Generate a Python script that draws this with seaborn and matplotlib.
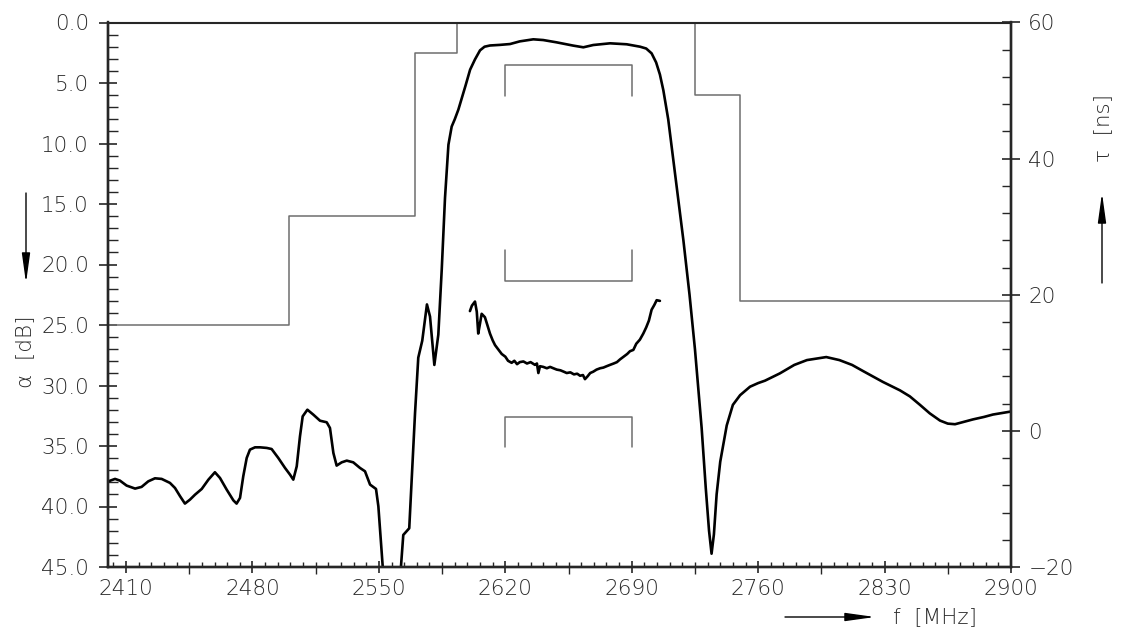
import matplotlib
matplotlib.use("Agg")
import matplotlib.pyplot as plt
import seaborn as sns
from matplotlib.ticker import FixedLocator, FormatStrFormatter, NullFormatter, NullLocator

# attenuation curve (left axis, dB)
att_freq = [2400.2, 2403.9, 2406.6, 2410.3, 2415.0, 2418.6, 2422.3, 2426.0, 2429.7, 2434.3,
            2437.1, 2439.9, 2442.6, 2445.4, 2448.2, 2451.9, 2455.6, 2459.2, 2462.0, 2465.7,
            2469.4, 2471.2, 2473.1, 2474.9, 2476.8, 2478.6, 2481.4, 2484.2, 2487.9, 2490.6,
            2494.3, 2498.0, 2500.8, 2502.6, 2504.5, 2506.3, 2507.8, 2510.4, 2513.7, 2517.4,
            2521.1, 2522.9, 2524.8, 2526.6, 2529.4, 2532.2, 2535.8, 2539.5, 2542.3, 2545.1,
            2548.4, 2549.7, 2552.1, 2555.0, 2560.0, 2562.2, 2563.5, 2565.0, 2566.8,
            2568.0, 2570.0, 2571.8, 2574.0, 2576.6, 2578.3, 2580.7, 2582.9, 2584.8, 2586.6,
            2588.5, 2590.3, 2592.0, 2594.0, 2598.0, 2600.5, 2603.2, 2606.0, 2608.5, 2611.5,
            2617.0, 2622.6, 2628.0, 2635.5, 2641.0, 2648.4, 2657.6, 2663.2, 2668.7, 2678.0,
            2687.2, 2694.6, 2698.0, 2701.0, 2703.5, 2705.6, 2707.5, 2710.2, 2714.0, 2718.6,
            2722.0, 2725.0, 2728.7, 2731.0, 2732.8, 2734.2, 2735.5, 2737.0, 2739.0, 2742.6,
            2746.0, 2750.0, 2755.5, 2760.0, 2763.8, 2772.0, 2780.0, 2787.0, 2797.7, 2805.0,
            2812.0, 2818.0, 2829.0, 2838.5, 2844.0, 2849.6, 2855.0, 2860.7, 2865.0, 2869.0,
            2874.0, 2879.0, 2885.0, 2890.0, 2900.0]
att_db = [37.92, 37.72, 37.86, 38.27, 38.52, 38.38, 37.92, 37.67, 37.72, 38.05,
          38.47, 39.15, 39.76, 39.43, 39.02, 38.55, 37.78, 37.17, 37.64, 38.60,
          39.49, 39.76, 39.29, 37.50, 35.99, 35.30, 35.11, 35.11, 35.16, 35.25,
          35.99, 36.81, 37.37, 37.78, 36.68, 34.20, 32.55, 32.00, 32.41, 32.91,
          33.04, 33.51, 35.58, 36.62, 36.35, 36.21, 36.35, 36.81, 37.09, 38.19,
          38.55, 39.98, 44.94, 50.0, 50.0, 45.0, 42.35, 42.1, 41.8,
          38.2, 32.3, 27.7, 26.3, 23.3, 24.3, 28.3, 25.8, 20.4, 14.5,
          10.1, 8.6, 8.0, 7.2, 5.2, 3.9, 3.05, 2.3, 2.0, 1.9,
          1.85, 1.78, 1.56, 1.39, 1.45, 1.64, 1.91, 2.05, 1.86, 1.72,
          1.80, 2.0, 2.15, 2.55, 3.3, 4.3, 5.6, 8.0, 12.5, 18.0,
          22.5, 27.0, 33.5, 38.5, 42.0, 43.9, 42.3, 39.0, 36.3, 33.3,
          31.6, 30.8, 30.1, 29.8, 29.6, 29.0, 28.3, 27.9, 27.65, 27.9,
          28.3, 28.8, 29.7, 30.4, 30.9, 31.6, 32.3, 32.9, 33.15, 33.2,
          33.0, 32.8, 32.6, 32.4, 32.15]

# group delay curve (right axis, ns)
gd_freq = [2600.4, 2601.5, 2603.2, 2604.2, 2605.0, 2606.0, 2606.9, 2608.7, 2610.0, 2611.5,
           2613.0, 2614.3, 2616.0, 2618.0, 2620.0, 2621.5, 2623.5, 2625.0, 2626.5, 2628.0,
           2630.0, 2632.0, 2634.0, 2636.4, 2637.5, 2638.3, 2639.2, 2641.0, 2643.0, 2644.8,
           2646.6, 2648.5, 2650.5, 2652.3, 2654.0, 2656.0, 2658.0, 2659.8, 2661.4, 2663.0,
           2664.1, 2665.5, 2667.0, 2668.7, 2670.5, 2672.5, 2674.3, 2676.1, 2678.0, 2680.0,
           2681.8, 2683.5, 2685.5, 2687.5, 2689.0, 2690.9, 2692.5, 2694.5, 2696.4, 2698.0,
           2699.5, 2701.0, 2702.5, 2703.8, 2705.6]
gd_ns = [17.6, 18.4, 19.0, 17.5, 14.3, 15.8, 17.2, 16.7, 15.6, 14.3,
         13.3, 12.6, 12.0, 11.3, 10.9, 10.3, 10.0, 10.3, 9.8, 10.1,
         10.2, 9.9, 10.1, 9.7, 9.9, 8.5, 9.5, 9.4, 9.2, 9.4,
         9.2, 9.0, 8.9, 8.7, 8.5, 8.6, 8.3, 8.4, 8.1, 8.2,
         7.6, 8.0, 8.5, 8.7, 9.0, 9.2, 9.3, 9.5, 9.7, 9.9,
         10.1, 10.5, 10.9, 11.3, 11.7, 11.9, 12.8, 13.4, 14.3, 15.2,
         16.2, 17.8, 18.5, 19.2, 19.1]

# stopband mask (dB) and passband spec brackets
mask_freq = [2400, 2500, 2570, 2593, 2725, 2750, 2900]
mask_db = [25.0, 16.0, 2.5, 0.0, 6.0, 23.0, 23.0]
spec_freq = [2620, 2620, 2690, 2690]
att_spec = [6.1, 3.5, 3.5, 6.1]
gd_upper = [26.6, 22.0, 22.0, 26.6]
gd_lower = [-2.4, 2.0, 2.0, -2.4]

f_ticks = [2410, 2480, 2550, 2620, 2690, 2760, 2830, 2900]
f_mid_ticks = [2445, 2515, 2585, 2655, 2725, 2795, 2865]
f_minor = list(range(2403, 2901, 7))
db_ticks = [0, 5, 10, 15, 20, 25, 30, 35, 40, 45]
db_minor = list(range(0, 46))
ns_ticks = [-20, 0, 20, 40, 60]
ns_minor = list(range(-20, 61, 4))

sns.set_style("ticks")
plt.rcParams['font.family'] = ['DejaVu Sans']
plt.rcParams['font.weight'] = 'light'
txt = '#2a2a2a'
gray = '#6e6e6e'
fs = 15.5

fig = plt.figure(figsize=(11.24, 6.37), dpi=100)
ax = fig.add_axes([108 / 1124, 1 - 567 / 637, 903 / 1124, 544.5 / 637])
ax2 = ax.twinx()

sns.lineplot(x=mask_freq, y=mask_db, ax=ax, drawstyle='steps-post', color=gray, lw=1.1,
             estimator=None, sort=False)
sns.lineplot(x=spec_freq, y=att_spec, ax=ax, color=gray, lw=1.1, estimator=None, sort=False)
sns.lineplot(x=att_freq, y=att_db, ax=ax, color='black', lw=1.9, estimator=None, sort=False)
sns.lineplot(x=spec_freq, y=gd_upper, ax=ax2, color=gray, lw=1.1, estimator=None, sort=False)
sns.lineplot(x=spec_freq, y=gd_lower, ax=ax2, color=gray, lw=1.1, estimator=None, sort=False)
sns.lineplot(x=gd_freq, y=gd_ns, ax=ax2, color='black', lw=1.9, estimator=None, sort=False)

ax.set_xlim(2400, 2900)
ax.set_ylim(45, 0)
ax2.set_ylim(-20, 60)
ax.set_xlabel('')
ax.set_ylabel('')
ax2.set_ylabel('')

for a in (ax, ax2):
    for s in ('left', 'right', 'bottom'):
        a.spines[s].set_linewidth(1.7)
    a.spines['top'].set_linewidth(0.8)

ax.xaxis.set_major_locator(FixedLocator(f_ticks))
ax.xaxis.set_minor_locator(FixedLocator(f_minor))
ax.yaxis.set_major_locator(FixedLocator(db_ticks))
ax.yaxis.set_minor_locator(FixedLocator(db_minor))
ax.yaxis.set_major_formatter(FormatStrFormatter('%.1f'))
ax2.yaxis.set_major_locator(FixedLocator(ns_ticks))
ax2.yaxis.set_minor_locator(FixedLocator(ns_minor))

ax.tick_params(axis='x', which='major', direction='inout', length=9, width=1.2,
               labelsize=fs, labelcolor=txt, pad=4)
ax.tick_params(axis='x', which='minor', direction='in', length=3.6, width=1.0)
ax.tick_params(axis='y', which='major', direction='inout', length=13.5, width=1.2,
               labelsize=fs, labelcolor=txt, pad=7)
ax.tick_params(axis='y', which='minor', direction='in', length=7, width=1.0)
ax2.tick_params(axis='y', which='major', direction='inout', length=13, width=1.2,
                labelsize=fs, labelcolor=txt, pad=6)
ax2.tick_params(axis='y', which='minor', direction='in', length=6.7, width=1.0)

# outward ticks halfway between labelled frequencies
sec = ax.secondary_xaxis('bottom')
sec.xaxis.set_major_locator(FixedLocator(f_mid_ticks))
sec.xaxis.set_major_formatter(NullFormatter())
sec.xaxis.set_minor_locator(NullLocator())
sec.tick_params(direction='out', length=4.8, width=1.0)
sec.spines['bottom'].set_visible(False)

def fpx(x, y):
    return x / 1124, 1 - y / 637

fig.text(*fpx(25, 352), 'α  [dB]', rotation=90, ha='center', va='center', fontsize=fs, color=txt)
fig.text(*fpx(1103, 128), 'τ  [ns]', rotation=90, ha='center', va='center', fontsize=fs, color=txt)
fig.text(*fpx(893, 617), 'f  [MHz]', ha='left', va='center', fontsize=fs, color=txt)

arrow = dict(arrowstyle='-|>,head_length=1.8,head_width=0.25', lw=1.0, color='black',
             mutation_scale=10, shrinkA=0, shrinkB=0)
for start, end in [((26, 193), (26, 283)), ((1102, 283), (1102, 193)), ((785, 617), (875, 617))]:
    ax.annotate('', xy=(end[0], 637 - end[1]), xytext=(start[0], 637 - start[1]),
                xycoords='figure pixels', textcoords='figure pixels',
                arrowprops=arrow, annotation_clip=False)

fig.savefig('out.png', dpi=100)
